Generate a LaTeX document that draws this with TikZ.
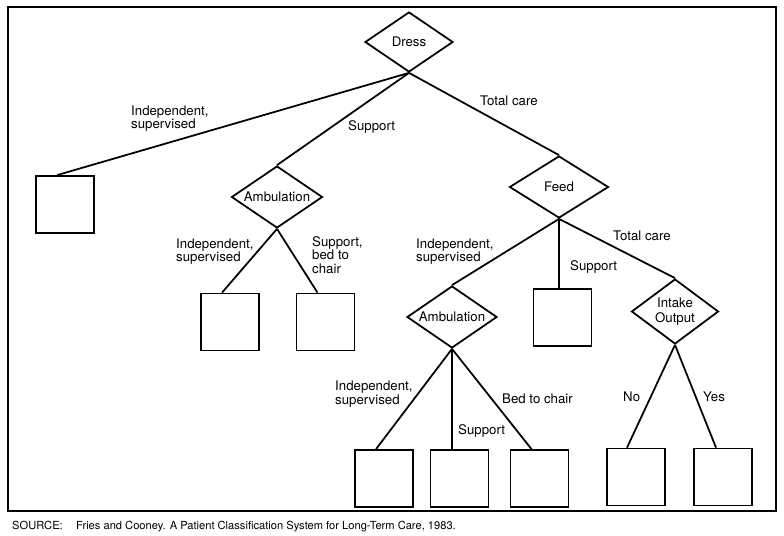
\documentclass[tikz,border=0pt]{standalone}
\usepackage{fontspec}
\setmainfont{TeX Gyre Heros}
\usetikzlibrary{shapes.geometric}

\tikzset{
  choice/.style={draw, shape=diamond, aspect=1.5, inner sep=0pt, line width=1.5pt, align=center, font=\fontsize{11.3}{12.6}\selectfont},
  leaf/.style={draw, rectangle, minimum width=17.4mm, minimum height=17.1mm, inner sep=0pt, line width=1.5pt},
  branch/.style={line width=1.5pt},
  lbl/.style={anchor=west, align=left, inner sep=0pt, font=\fontsize{11.3}{11.4}\selectfont},
}

\begin{document}
\begin{tikzpicture}[x=0.3mm, y=-0.3mm]
	%%%%% START %%%%%
	\useasboundingbox (0,0) rectangle (784,535);
	\draw[line width=1.8pt] (8,7) rectangle (776,511);
	
	\node[choice, minimum width=26.4mm, minimum height=18mm] (dress) at (409,42) {Dress};
	\node[choice, minimum width=27.3mm, minimum height=18.6mm] (amba) at (277,197) {Ambulation};
	\node[choice, minimum width=29.7mm, minimum height=18.6mm] (feed) at (559,187) {Feed};
	\node[choice, minimum width=27mm, minimum height=18.6mm] (ambb) at (452,317) {Ambulation};
	\node[choice, minimum width=26.1mm, minimum height=19.5mm] (intake) at (675,311.5) {Intake\\Output};
	
	\node[leaf] (boxa) at (65,204.5) {};
	\node[leaf] (boxb) at (230,322) {};
	\node[leaf] (boxc) at (325.5,322) {};
	\node[leaf] (boxd) at (562.5,317.5) {};
	\node[leaf] (boxe) at (384,478.5) {};
	\node[leaf] (boxf) at (459.5,478.5) {};
	\node[leaf] (boxg) at (539.5,478.5) {};
	\node[leaf] (boxh) at (636,477) {};
	\node[leaf] (boxi) at (723,477) {};
	
	\draw[branch] (dress.south) -- ([xshift=-2.4mm]boxa.north);
	\draw[branch] (dress.south) -- (amba.north);
	\draw[branch] (dress.south) -- (feed.north);
	
	\draw[branch] (amba.south) -- ([xshift=-2.4mm]boxb.north);
	\draw[branch] (amba.south) -- ([xshift=-2.4mm]boxc.north);
	
	\draw[branch] (feed.south) -- (ambb.north);
	\draw[branch] (feed.south) -- (feed.south |- boxd.north);
	\draw[branch] (feed.south) -- (intake.north);
	
	\draw[branch] (ambb.south) -- ([xshift=-2.4mm]boxe.north);
	\draw[branch] (ambb.south) -- (ambb.south |- boxf.north);
	\draw[branch] (ambb.south) -- ([xshift=-2.4mm]boxg.north);
	
	\draw[branch] (intake.south) -- ([xshift=-2.7mm]boxh.north);
	\draw[branch] (intake.south) -- ([xshift=-2.1mm]boxi.north);
	
	\node[lbl] (la) at (131,118.5) {Independent,\\supervised};
	\node[lbl] (lb) at (348,127) {Support};
	\node[lbl] (lc) at (480,100.5) {Total care};
	\node[lbl] (ld) at (176,251.5) {Independent,\\supervised};
	\node[lbl] (le) at (312,255) {Support,\\bed to\\chair};
	\node[lbl] (lf) at (416,251.5) {Independent,\\supervised};
	\node[lbl] (lg) at (570,267) {Support};
	\node[lbl] (lh) at (613,236) {Total care};
	\node[lbl] (li) at (335,394) {Independent,\\supervised};
	\node[lbl] (lj) at (458,431) {Support};
	\node[lbl] (lk) at (502,399) {Bed to chair};
	\node[lbl] (ll) at (623,397) {No};
	\node[lbl] (lm) at (703,397) {Yes};
	
	\node[lbl, font=\fontsize{9.5}{10}\selectfont] (source) at (12,527) {SOURCE:\hspace{1.2em}Fries and Cooney. A Patient Classification System for Long-Term Care, 1983.};
	%%%%% END %%%%%
\end{tikzpicture}
\end{document}
